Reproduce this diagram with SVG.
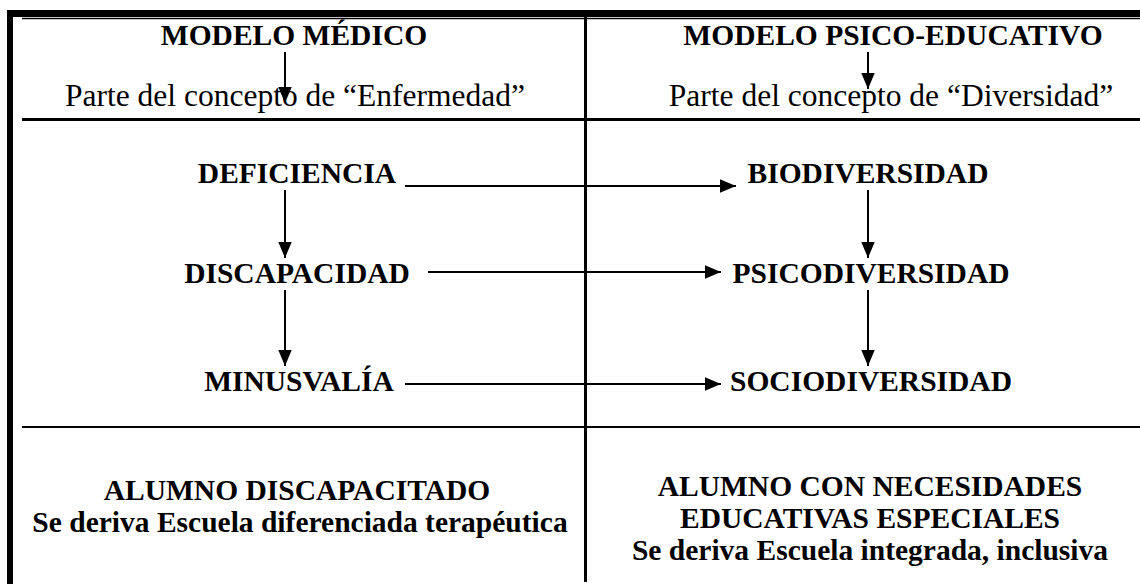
<svg xmlns="http://www.w3.org/2000/svg" width="1140" height="584" viewBox="0 0 1140 584">
<style>
.b{font-family:"Liberation Serif","Times New Roman",serif;font-weight:bold;font-size:29.5px;fill:#000;text-anchor:middle}
.r{font-family:"Liberation Serif","Times New Roman",serif;font-size:31.5px;fill:#000;text-anchor:middle}
.c{stroke:#000;stroke-width:2;fill:none}
</style>
<defs>
<marker id="ah" viewBox="0 0 10 10" refX="10" refY="5" markerWidth="8" markerHeight="8" orient="auto" markerUnits="userSpaceOnUse">
<path d="M0,0 L10,5 L0,10 z" fill="#000"/>
</marker>
<marker id="ah2" viewBox="0 0 10 10" refX="10" refY="5" markerWidth="16" markerHeight="16" orient="auto" markerUnits="userSpaceOnUse">
<path d="M0,0.8 L10,5 L0,9.2 z" fill="#000"/>
</marker>
</defs>
<rect width="1140" height="584" fill="#fff"/>
<g id="frame">
<rect x="7" y="10" width="1133" height="7" fill="#000"/>
<rect x="7" y="10" width="6" height="574" fill="#000"/>
<line x1="22" y1="18.5" x2="1140" y2="18.5" stroke="#000" stroke-width="1.5"/>
<line x1="22" y1="119.5" x2="1140" y2="119.5" stroke="#000" stroke-width="3"/>
<line x1="22" y1="427" x2="1140" y2="427" stroke="#000" stroke-width="2"/>
<line x1="585.5" y1="17" x2="585.5" y2="582" stroke="#000" stroke-width="3"/>
</g>
<g id="connectors">
<path class="c" d="M285,52 V103" marker-end="url(#ah2)"/>
<path class="c" d="M868,52 V89" marker-end="url(#ah2)"/>
<path class="c" d="M405,186 H736" marker-end="url(#ah2)"/>
<path class="c" d="M428,272 H721" marker-end="url(#ah2)"/>
<path class="c" d="M405,384 H721" marker-end="url(#ah2)"/>
<path class="c" d="M285,190 V258" marker-end="url(#ah2)"/>
<path class="c" d="M285,290 V366" marker-end="url(#ah2)"/>
<path class="c" d="M868,190 V258" marker-end="url(#ah2)"/>
<path class="c" d="M868,290 V366" marker-end="url(#ah2)"/>
</g>
<g id="modelo-medico"><text class="b" x="294" y="45">MODELO MÉDICO</text></g>
<g id="modelo-psico"><text class="b" x="893" y="45">MODELO PSICO-EDUCATIVO</text></g>
<g id="enfermedad"><text class="r" x="295" y="106">Parte del concepto de “Enfermedad”</text></g>
<g id="diversidad"><text class="r" x="891" y="106">Parte del concepto de “Diversidad”</text></g>
<g id="deficiencia"><text class="b" x="297" y="183">DEFICIENCIA</text></g>
<g id="discapacidad"><text class="b" x="297" y="283">DISCAPACIDAD</text></g>
<g id="minusvalia"><text class="b" x="299" y="391">MINUSVALÍA</text></g>
<g id="biodiversidad"><text class="b" x="868" y="183">BIODIVERSIDAD</text></g>
<g id="psicodiversidad"><text class="b" x="871" y="283">PSICODIVERSIDAD</text></g>
<g id="sociodiversidad"><text class="b" x="871" y="391">SOCIODIVERSIDAD</text></g>
<g id="alumno-discapacitado">
<text class="b" x="297" y="500">ALUMNO DISCAPACITADO</text>
<text class="b" x="300" y="532">Se deriva Escuela diferenciada terapéutica</text>
</g>
<g id="alumno-nee">
<text class="b" x="870" y="496">ALUMNO CON NECESIDADES</text>
<text class="b" x="870" y="528">EDUCATIVAS ESPECIALES</text>
<text class="b" x="870" y="560">Se deriva Escuela integrada, inclusiva</text>
</g>
</svg>
